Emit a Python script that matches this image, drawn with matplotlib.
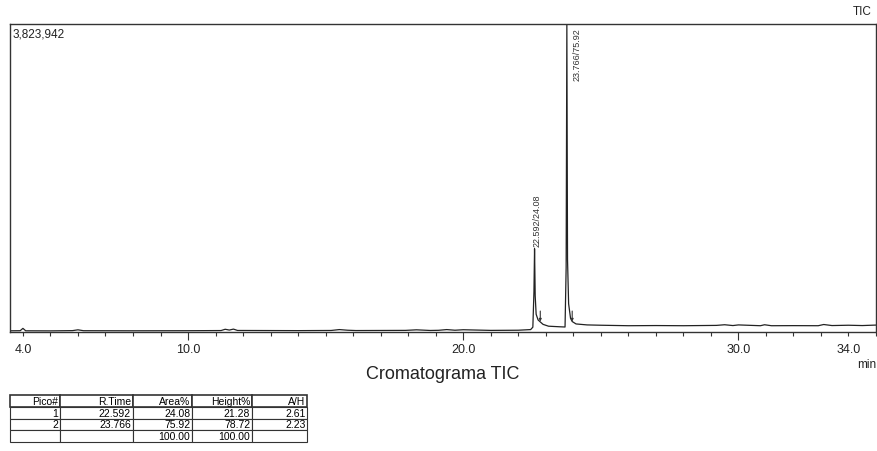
import matplotlib
matplotlib.use('Agg')
import matplotlib.pyplot as plt
from matplotlib.ticker import FixedLocator, MultipleLocator, FuncFormatter

plt.rcParams['font.family'] = ['Liberation Sans', 'DejaVu Sans']

# TIC trace (retention time in min, intensity in counts)
rt = [3.55, 3.9, 4.0, 4.1, 5.0, 5.8, 6.0, 6.2, 8.0, 10.0, 11.2, 11.35, 11.5, 11.65, 11.8,
      14.0, 15.2, 15.5, 15.8, 16.1, 17.9, 18.3, 18.8, 19.1, 19.4, 19.7, 20.0, 21.0, 22.0,
      22.45, 22.53, 22.57, 22.592, 22.615, 22.65, 22.72, 22.8, 22.9, 23.1, 23.5, 23.70,
      23.74, 23.766, 23.79, 23.83, 23.9, 23.96, 24.1, 24.5, 25.0, 26.0, 27.0, 28.0, 29.2,
      29.5, 29.8, 30.0, 30.8, 30.95, 31.2, 32.0, 32.9, 33.1, 33.4, 34.0, 34.5, 35.0]
intensity = [15000, 16000, 45000, 15000, 14000, 17000, 27000, 16000, 15000, 16000, 18000,
             34000, 24000, 36000, 19000,
             17000, 19000, 30000, 22000, 18000, 20000, 27000, 19000, 21000, 30000, 22000,
             28000, 20000, 22000,
             30000, 60000, 500000, 1033690, 450000, 220000, 150000, 125000, 95000, 72000,
             65000, 62000,
             800000, 3823942, 900000, 350000, 170000, 130000, 100000, 88000, 84000, 78000,
             80000, 78000, 82000,
             90000, 80000, 88000, 78000, 90000, 78000, 79000, 78000, 93000, 80000, 84000,
             80000, 86000]

y_max = 3823942

# integrated peaks
peak_rt = [22.592, 23.766]
peak_height = [1033690, 3823942]
peak_label = ['22.592/24.08', '23.766/75.92']
peak_end = [22.80, 23.96]

# peak table
col_labels = ['Pico#', 'R.Time', 'Area%', 'Height%', 'A/H']
rows = [['1', '22.592', '24.08', '21.28', '2.61'],
        ['2', '23.766', '75.92', '78.72', '2.23'],
        ['', '', '100.00', '100.00', '']]

W, H = 878, 452
fig = plt.figure(figsize=(W / 100, H / 100), dpi=100)
ax = fig.add_axes([10 / W, 1 - 333 / H, 866 / W, 308 / H])

ax.plot(rt, intensity, color='#222222', lw=0.9)
ax.set_xlim(3.53, 35.0)
ax.set_ylim(0, y_max)

for s in ax.spines.values():
    s.set_color('#333333')
    s.set_linewidth(1.0)

ax.set_yticks([])
ax.xaxis.set_major_locator(FixedLocator([10, 20, 30]))
ax.xaxis.set_major_formatter(FuncFormatter(lambda v, p: f'{v:.1f}'))
ax.xaxis.set_minor_locator(MultipleLocator(1))
ax.xaxis.set_minor_formatter(FuncFormatter(lambda v, p: f'{v:.1f}' if round(v) in (4, 34) else ''))
ax.tick_params(axis='x', which='major', direction='out', length=5.8, width=0.8,
               color='#333333', pad=2.2, labelsize=9, labelcolor='#222222')
ax.tick_params(axis='x', which='minor', direction='out', length=2.9, width=0.8,
               color='#333333', pad=5.1, labelsize=9, labelcolor='#222222')

# peak labels and end markers
ax.annotate(peak_label[0], (peak_rt[0], peak_height[0]), xytext=(1.5, 2),
            textcoords='offset points', rotation=90, ha='center', va='bottom',
            fontsize=6.5, color='#333333')
ax.annotate(peak_label[1], (peak_rt[1], y_max), xytext=(7.5, -2),
            textcoords='offset points', rotation=90, ha='center', va='top',
            fontsize=6.5, color='#333333')
for t in peak_end:
    ax.annotate('', xy=(t, 130000), xytext=(t, 260000),
                arrowprops=dict(arrowstyle='-|>', color='#333333', lw=0.8,
                                mutation_scale=3.5, shrinkA=0, shrinkB=0))

ax.text(0.003, 0.99, '3,823,942', transform=ax.transAxes, ha='left', va='top',
        fontsize=8.5, color='#222222')
fig.text(872 / W, 1 - 12 / H, 'TIC', ha='right', va='center', fontsize=8.5, color='#222222')
fig.text(876 / W, 1 - 365 / H, 'min', ha='right', va='center', fontsize=8.5, color='#222222')
fig.text(443 / W, 1 - 375 / H, 'Cromatograma TIC', ha='center', va='center',
         fontsize=13, color='#222222')

# peak table below the chromatogram
tax = fig.add_axes([10 / W, 1 - 443 / H, 297 / W, 47 / H])
tax.axis('off')
widths = [50, 73, 59, 60, 55]
tot = sum(widths)
tbl = tax.table(cellText=rows, colLabels=col_labels, colWidths=[w / tot for w in widths],
                cellLoc='right', colLoc='right', bbox=[0, 0, 1, 1])
tbl.auto_set_font_size(False)
tbl.set_fontsize(7.5)
for (r, c), cell in tbl.get_celld().items():
    cell.set_linewidth(1.2 if r == 0 else 0.8)
    cell.set_edgecolor('#333333')
    cell.PAD = 0.03

fig.savefig('out.png', dpi=100)
